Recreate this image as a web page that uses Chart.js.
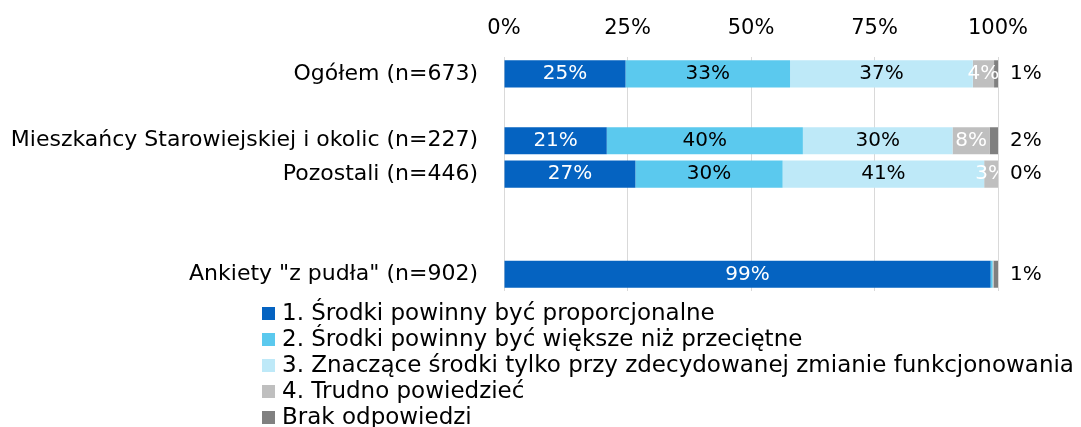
<!DOCTYPE html>
<html>
<head>
<meta charset="utf-8">
<script src="https://cdn.jsdelivr.net/npm/chart.js@4.4.1/dist/chart.umd.min.js"></script>
<style>
  body { margin: 0; background: #fff; }
  #wrap { position: relative; width: 1081px; height: 427px; overflow: hidden; }
  #legend {
    position: absolute; left: 262px; top: 299px;
    margin: 0; padding: 0; list-style: none;
    font: 23px "DejaVu Sans", sans-serif; color: #000;
  }
  #legend li { height: 26px; line-height: 26px; white-space: nowrap; }
  #legend span.box {
    display: inline-block; width: 13px; height: 13px;
    margin-right: 7px; vertical-align: 0px;
  }
</style>
</head>
<body>
<div id="wrap">
  <canvas id="chart" width="1081" height="427"></canvas>
  <ul id="legend"></ul>
</div>
<script>
// categories (empty strings are spacer rows)
const categories = [
  "Ogółem (n=673)",
  "",
  "Mieszkańcy Starowiejskiej i okolic (n=227)",
  "Pozostali (n=446)",
  "",
  "",
  'Ankiety "z pudła" (n=902)',
];

const seriesNames = [
  "1. Środki powinny być proporcjonalne",
  "2. Środki powinny być większe niż przeciętne",
  "3. Znaczące środki tylko przy zdecydowanej zmianie funkcjonowania",
  "4. Trudno powiedzieć",
  "Brak odpowiedzi",
];

// shares in %
const proportional = [24.6, null, 20.8, 26.6, null, null, 98.5];
const larger = [33.3, null, 39.7, 29.8, null, null, 0.4];
const significant = [37.0, null, 30.3, 40.8, null, null, 0];
const hardToSay = [4.3, null, 7.5, 2.8, null, null, 0.2];
const noAnswer = [0.8, null, 1.7, 0, null, null, 0.9];

const xTicks = [0, 25, 50, 75, 100];

const colors = ["#0563C1", "#5BC9EE", "#BEE9F8", "#BFBFBF", "#808080"];
const labelColors = ["#fff", "#000", "#000", "#fff", "#000"];
const FAMILY = "'DejaVu Sans', sans-serif";

// draws the percentage labels, last series goes outside the bar
const barLabels = {
  id: "barLabels",
  afterDatasetsDraw(chart) {
    const ctx = chart.ctx;
    const area = chart.chartArea;
    const last = chart.data.datasets.length - 1;
    ctx.save();
    ctx.font = "20px " + FAMILY;
    ctx.textBaseline = "middle";
    chart.data.datasets.forEach((ds, i) => {
      const meta = chart.getDatasetMeta(i);
      meta.data.forEach((bar, j) => {
        const value = ds.data[j];
        if (value === null) return;
        const text = Math.round(value) + "%";
        ctx.fillStyle = labelColors[i];
        if (i === last) {
          ctx.textAlign = "left";
          ctx.fillText(text, bar.x + 12, bar.y);
        } else if (Math.round(value) >= 1) {
          const c = bar.getCenterPoint();
          ctx.save();
          ctx.beginPath();
          ctx.rect(area.left, area.top, area.right - area.left, area.bottom - area.top);
          ctx.clip();
          ctx.textAlign = "center";
          ctx.fillText(text, c.x, c.y);
          ctx.restore();
        }
      });
    });
    ctx.restore();
  },
};

const seriesData = [proportional, larger, significant, hardToSay, noAnswer];

const chart = new Chart(document.getElementById("chart").getContext("2d"), {
  type: "bar",
  data: {
    labels: categories,
    datasets: seriesData.map((data, i) => ({
      label: seriesNames[i],
      data: data,
      backgroundColor: colors[i],
      borderWidth: 0,
      barPercentage: 0.81,
      categoryPercentage: 1,
    })),
  },
  options: {
    indexAxis: "y",
    responsive: false,
    animation: false,
    layout: {
      padding: { left: 10, right: 83, top: 0, bottom: 136 },
    },
    plugins: {
      legend: { display: false },
      tooltip: { enabled: false },
    },
    scales: {
      x: {
        position: "top",
        stacked: true,
        min: 0,
        max: 100,
        afterBuildTicks: (scale) => {
          scale.ticks = xTicks.map((v) => ({ value: v }));
        },
        ticks: {
          font: { family: FAMILY, size: 21 },
          color: "#000",
          padding: 16,
          callback: (v) => v + "%",
        },
        grid: { color: "#D9D9D9", drawTicks: false },
        border: { display: false },
      },
      y: {
        stacked: true,
        afterFit: (scale) => {
          scale.width = 494;
        },
        ticks: { font: { family: FAMILY, size: 22 }, color: "#000", padding: 26 },
        grid: { display: false, drawTicks: false },
        border: { display: false },
      },
    },
  },
  plugins: [barLabels],
});

// legend as a single column under the plot
const legend = document.getElementById("legend");
chart.data.datasets.forEach((ds) => {
  const li = document.createElement("li");
  const box = document.createElement("span");
  box.className = "box";
  box.style.background = ds.backgroundColor;
  li.appendChild(box);
  li.appendChild(document.createTextNode(ds.label));
  legend.appendChild(li);
});
</script>
</body>
</html>
